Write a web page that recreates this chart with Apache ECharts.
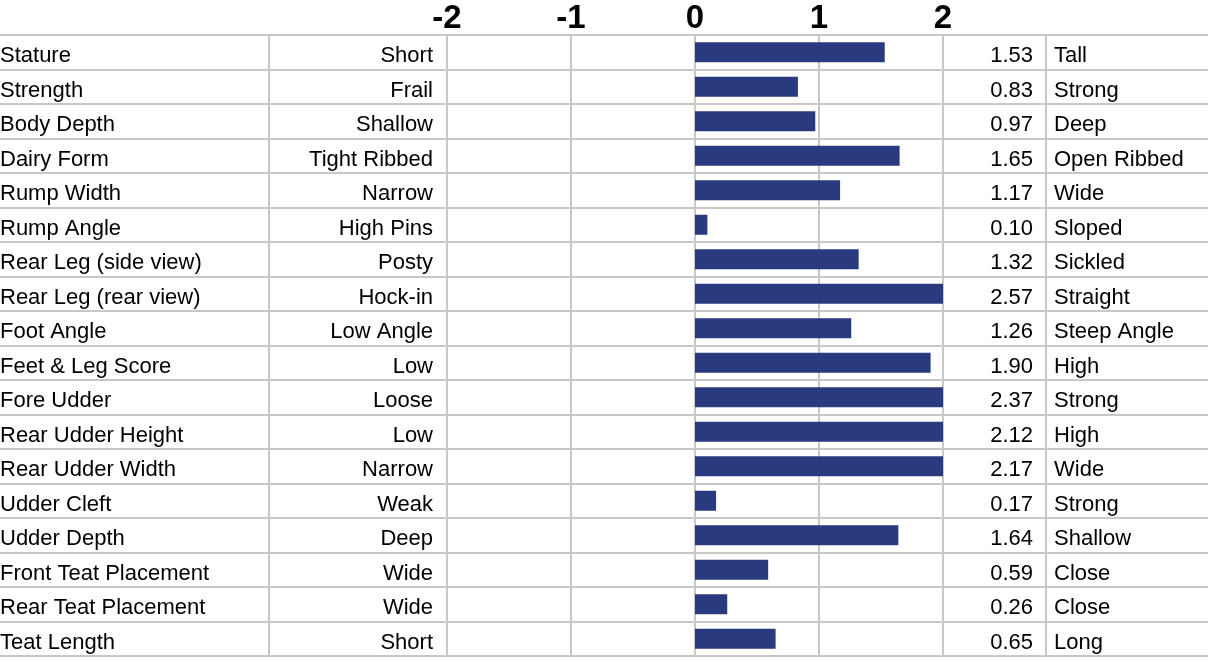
<!DOCTYPE html>
<html>
<head>
<meta charset="utf-8">
<script src="https://cdn.jsdelivr.net/npm/echarts@6/dist/echarts.min.js"></script>
<style>html,body{margin:0;padding:0;background:#fff;}#chart{width:1211px;height:662px;}</style>
</head>
<body>
<div id="chart"></div>
<script>
const traits = ["Stature","Strength","Body Depth","Dairy Form","Rump Width","Rump Angle","Rear Leg (side view)","Rear Leg (rear view)","Foot Angle","Feet & Leg Score","Fore Udder","Rear Udder Height","Rear Udder Width","Udder Cleft","Udder Depth","Front Teat Placement","Rear Teat Placement","Teat Length"];
const lowLabels = ["Short","Frail","Shallow","Tight Ribbed","Narrow","High Pins","Posty","Hock-in","Low Angle","Low","Loose","Low","Narrow","Weak","Deep","Wide","Wide","Short"];
const highLabels = ["Tall","Strong","Deep","Open Ribbed","Wide","Sloped","Sickled","Straight","Steep Angle","High","Strong","High","Wide","Strong","Shallow","Close","Close","Long"];
const values = [1.53,0.83,0.97,1.65,1.17,0.10,1.32,2.57,1.26,1.90,2.37,2.12,2.17,0.17,1.64,0.59,0.26,0.65];
const axisMin = -2, axisMax = 2, axisInterval = 1;

const GRID_COLOR = '#c8c8c8';
const FONT = 'Liberation Sans, Arial, sans-serif';
const txtLabel = (align, margin) => ({
  show:true, interval:0, align: align, margin: margin,
  formatter: v => '{t|' + v + '}',
  rich: { t: { color:'#000', fontFamily: FONT, fontSize: 22, padding:[8,0,0,0], align: align } }
});

const chart = echarts.init(document.getElementById('chart'), null, {renderer:'canvas'});
const hiddenCat = (gi, extra) => Object.assign({
  type:'category', gridIndex: gi, data: traits, inverse: true,
  axisLine:{show:false}, axisTick:{show:false}, axisLabel:{show:false}, splitLine:{show:false}
}, extra || {});

chart.setOption({
  animation:false,
  grid:[
    {left:447, right:268, top:35, bottom:6, containLabel:false, outerBoundsMode:'none'},
    {left:0, right:3, top:35, bottom:6, containLabel:false, outerBoundsMode:'none'},
    {left:269, right:165, top:35, bottom:6, containLabel:false, outerBoundsMode:'none'}
  ],
  xAxis:[
    {type:'value', gridIndex:0, min:axisMin, max:axisMax, interval:axisInterval, position:'top',
     axisLine:{show:false}, axisTick:{show:false},
     axisLabel:{color:'#000', fontFamily:FONT, fontWeight:'bold', fontSize:33, margin:0},
     splitLine:{show:true, lineStyle:{color:GRID_COLOR, width:2}}},
    {type:'value', gridIndex:1, show:false},
    {type:'value', gridIndex:2, show:false}
  ],
  yAxis:[
    hiddenCat(0, {position:'left', axisLabel: txtLabel('left', 447)}),
    hiddenCat(0, {position:'left', data: lowLabels, axisLabel: txtLabel('right', 14)}),
    hiddenCat(0, {position:'right', data: values.map(v=>v.toFixed(2)), axisLabel: txtLabel('right', 90)}),
    hiddenCat(0, {position:'right', data: highLabels, axisLabel: txtLabel('left', 111)}),
    hiddenCat(1, {splitLine:{show:true, lineStyle:{color:GRID_COLOR, width:2}}}),
    hiddenCat(2, {position:'left', axisLine:{show:true, lineStyle:{color:GRID_COLOR, width:2}}}),
    hiddenCat(2, {position:'right', axisLine:{show:true, lineStyle:{color:GRID_COLOR, width:2}}})
  ],
  series:[{
    type:'bar', xAxisIndex:0, yAxisIndex:0, data: values, barWidth:20, clip:true,
    itemStyle:{color:'#2a3a7e'}, silent:true
  }]
});
</script>
</body>
</html>
